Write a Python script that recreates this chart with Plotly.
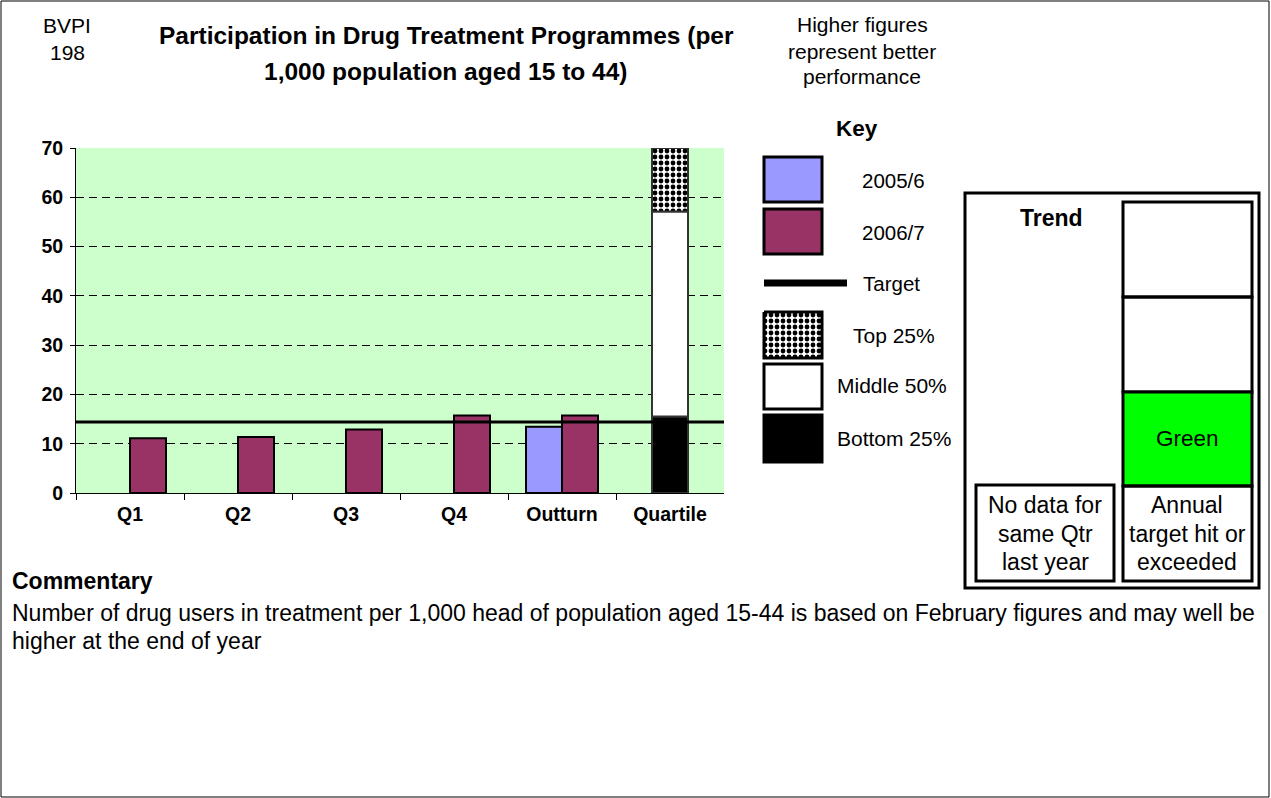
import plotly.graph_objects as go

W, H = 1271, 798

# ---- data ----
categories = ["Q1", "Q2", "Q3", "Q4", "Outturn", "Quartile"]
values_2005_6 = [None, None, None, None, 13.45, None]
values_2006_7 = [11.1, 11.35, 12.9, 15.7, 15.7, None]
target = 14.4
quartile_cuts = [0, 15.5, 57.1, 70.0]          # band edges: bottom / middle / top
quartile_names = ["Bottom 25%", "Middle 50%", "Top 25%"]
y_ticks = [0, 10, 20, 30, 40, 50, 60, 70]

FONT = "Liberation Sans, Arial, sans-serif"
MAROON = "#993366"
LILAC = "#9999FF"
CHECKER = dict(shape=".", fgcolor="black", bgcolor="white", size=6, solidity=0.5)


def fx(px):
    return px / W


def fy(py):
    return 1 - py / H


fig = go.Figure(layout=dict(template="none"))

# quarterly and outturn bars
fig.add_bar(x=categories, y=values_2005_6, name="2005/6", width=1 / 3, offset=-1 / 3,
            marker=dict(color=LILAC, line=dict(color="black", width=2)),
            xaxis="x", yaxis="y")
fig.add_bar(x=categories, y=values_2006_7, name="2006/7", width=1 / 3, offset=0,
            marker=dict(color=MAROON, line=dict(color="black", width=2)),
            xaxis="x", yaxis="y")

# quartile column built from the band edges
band_styles = [
    dict(color="black"),
    dict(color="white"),
    dict(color="white", pattern=CHECKER),
]
for i, name in enumerate(quartile_names):
    lo, hi = quartile_cuts[i], quartile_cuts[i + 1]
    fig.add_bar(x=[categories[-1]], y=[hi - lo], base=[lo], name=name,
                width=1 / 3, offset=-1 / 6,
                marker=dict(line=dict(color="#333333", width=2), **band_styles[i]),
                xaxis="x", yaxis="y")

# patterned key swatch (drawn in page-pixel space)
sx0, sx1, sy0, sy1 = 764, 822, 312, 358
fig.add_scatter(x=[sx0, sx1, sx1, sx0, sx0], y=[sy0, sy0, sy1, sy1, sy0],
                mode="lines", fill="toself", fillcolor="white", fillpattern=CHECKER,
                line=dict(color="black", width=3), xaxis="x2", yaxis="y2",
                hoverinfo="skip")

shapes = []
# plot background
shapes.append(dict(type="rect", xref="x domain", yref="y domain", x0=0, x1=1, y0=0, y1=1,
                   fillcolor="#CCFFCC", line=dict(width=0), layer="below"))
# target line
shapes.append(dict(type="line", xref="x domain", yref="y", x0=0, x1=1, y0=target, y1=target,
                   line=dict(color="black", width=3), layer="above"))


def prect(x0, y0, x1, y1, fill="rgba(0,0,0,0)", lw=3, color="black"):
    shapes.append(dict(type="rect", xref="paper", yref="paper",
                       x0=fx(x0), x1=fx(x1), y0=fy(y1), y1=fy(y0),
                       fillcolor=fill, line=dict(color=color, width=lw), layer="above"))


# outer frame
prect(1, 1, 1269, 797, lw=1)

# key swatches
prect(764, 157, 822, 202, fill=LILAC)
prect(764, 209, 822, 254, fill=MAROON)
shapes.append(dict(type="line", xref="paper", yref="paper", x0=fx(764), x1=fx(847),
                   y0=fy(283), y1=fy(283), line=dict(color="black", width=7)))
prect(764, 364, 822, 409, fill="white")
prect(764, 415, 822, 462, fill="black")

# trend panel
prect(965, 193, 1259, 588, lw=3)
prect(1123, 202, 1252, 297)
prect(1123, 297, 1252, 392)
prect(1123, 392, 1252, 486, fill="#00FF00")
prect(1123, 486, 1252, 581)
prect(976, 485, 1114, 581)

annotations = []


def text(x, y, s, size=20, bold=False, anchor="center"):
    annotations.append(dict(xref="paper", yref="paper", x=fx(x), y=fy(y), text=s,
                            showarrow=False, xanchor=anchor, yanchor="middle",
                            font=dict(family=FONT, size=size, color="black",
                                      weight="bold" if bold else "normal")))


text(67, 26, "BVPI", 21)
text(67, 53, "198", 21)
text(446, 35, "Participation in Drug Treatment Programmes (per", 24.5, True)
text(446, 71, "1,000 population aged 15 to 44)", 24.5, True)
text(862, 25, "Higher figures", 21)
text(862, 51, "represent better", 21)
text(862, 77, "performance", 21)
text(857, 129, "Key", 22.5, True)
text(893, 181, "2005/6", 20.5)
text(893, 232, "2006/7", 20.5)
text(891, 283, "Target", 20.5)
text(894, 335, "Top 25%", 21)
text(892, 386, "Middle 50%", 21)
text(894, 438, "Bottom 25%", 21)
text(1051, 218, "Trend", 23, True)
text(1187, 438, "Green", 22.5)
for y, s in zip([505, 534, 562], ["No data for", "same Qtr", "last year"]):
    text(1045, y, s, 23)
for y, s in zip([505, 534, 562], ["Annual", "target hit or", "exceeded"]):
    text(1187, y, s, 23)
text(10, 581, "Commentary", 23, True, "left")
text(10, 613, "Number of drug users in treatment per 1,000 head of population aged 15-44 "
              "is based on February figures and may well be", 23, False, "left")
text(10, 641, "higher at the end of year", 23, False, "left")

fig.update_layout(
    width=W, height=H,
    margin=dict(l=0, r=0, t=0, b=0),
    paper_bgcolor="white",
    plot_bgcolor="rgba(0,0,0,0)",
    showlegend=False,
    barmode="overlay",
    font=dict(family=FONT, color="black"),
    xaxis=dict(domain=[fx(76), fx(724)], anchor="y", type="category",
               categoryorder="array", categoryarray=categories,
               range=[-0.5, len(categories) - 0.5],
               tickson="boundaries", ticks="outside", ticklen=6, tickcolor="black",
               showline=True, linecolor="black", linewidth=1, showgrid=False,
               ticklabelstandoff=4,
               tickfont=dict(size=19.5, weight="bold", family=FONT), zeroline=False),
    yaxis=dict(domain=[fy(493), fy(148)], anchor="x", range=[0, 70],
               tickvals=y_ticks, ticks="outside", ticklen=5, tickcolor="black",
               showline=True, linecolor="black", linewidth=1,
               showgrid=True, gridcolor="black", gridwidth=1, griddash="8px,5px",
               ticklabelstandoff=3,
               zeroline=False, tickfont=dict(size=19.5, weight="bold", family=FONT)),
    xaxis2=dict(domain=[0, 1], anchor="y2", range=[0, W], visible=False, fixedrange=True),
    yaxis2=dict(domain=[0, 1], anchor="x2", range=[H, 0], visible=False, fixedrange=True),
    shapes=shapes,
    annotations=annotations,
)

fig.write_html("out.html")
